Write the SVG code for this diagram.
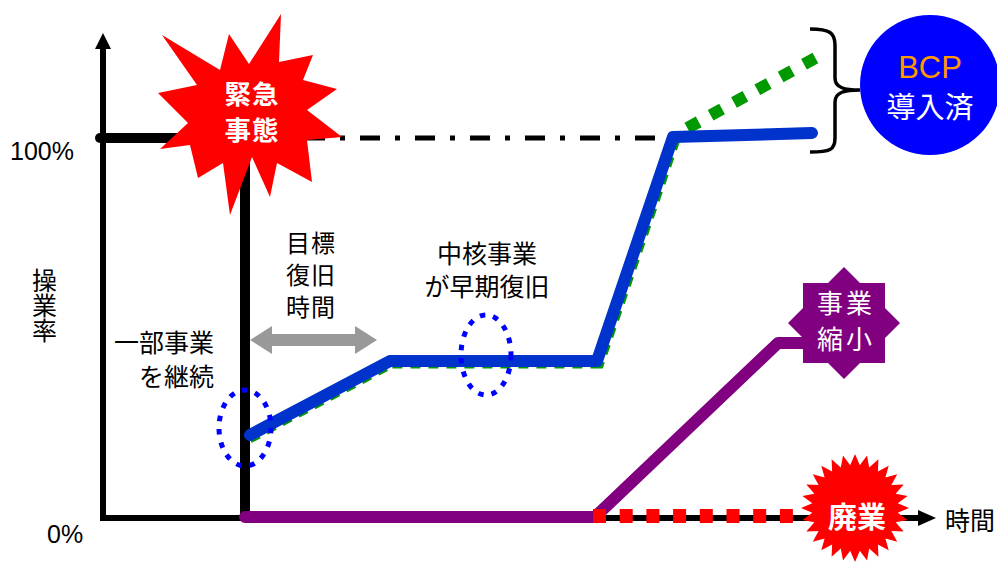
<svg xmlns="http://www.w3.org/2000/svg" width="997" height="563" viewBox="0 0 997 563">
<style>
.jp{font-family:"Noto Sans CJK JP","Noto Sans CJK SC",sans-serif;font-size:25px;fill:#000}
.en{font-family:"Liberation Sans",Arial,sans-serif;font-size:25px;fill:#000}
.mid{text-anchor:middle}
.wb{fill:#fff;font-weight:bold}
.w{fill:#fff}
.dot{fill:none;stroke:#0000FF;stroke-width:5;stroke-dasharray:5.5 8}
</style>
<rect width="997" height="563" fill="#fff"/>
<g id="connectors">
  <path d="M103,47 V518 H920" fill="none" stroke="#000" stroke-width="6"/>
  <polygon points="103,33 95,49 111,49" fill="#000"/>
  <polygon points="936,518 918,510 918,526" fill="#000"/>
  <line x1="100" y1="138" x2="245" y2="138" stroke="#000" stroke-width="10" stroke-linecap="round"/>
  <line x1="245" y1="138" x2="245" y2="518" stroke="#000" stroke-width="10"/>
  <line x1="250" y1="138" x2="672" y2="138" stroke="#000" stroke-width="5" stroke-dasharray="20 15 5 15"/>
  <path d="M249,437.5 L391,362.5 H598.5 L674.5,139" fill="none" stroke="#009900" stroke-width="12" stroke-dasharray="10 8"/>
  <line x1="687.3" y1="128.1" x2="815.7" y2="57.9" stroke="#009900" stroke-width="12" stroke-dasharray="13 13.6"/>
  <path d="M250,435 L390,361 H597 L673,137 L812,133" fill="none" stroke="#0033CC" stroke-width="12" stroke-linecap="round" stroke-linejoin="round"/>
  <path d="M245,517 H595 L778,343 H815" fill="none" stroke="#800080" stroke-width="12" stroke-linecap="round" stroke-linejoin="round"/>
  <line x1="593" y1="516" x2="805" y2="516" stroke="#FF0000" stroke-width="14" stroke-dasharray="13 13.7"/>
  <polygon points="250,340 272,326 272,334 355,334 355,326 377,340 355,354 355,346 272,346 272,354" fill="#999999"/>
  <path d="M810,29 C830,29 835,33 835,45 L835,78 C835,88 845,90 860,90 C845,90 835,92 835,102 L835,138 C835,150 830,152 810,152" fill="none" stroke="#000" stroke-width="3.5"/>
</g>
<g id="ellipse-left"><ellipse class="dot" cx="245" cy="428" rx="26" ry="38"/></g>
<g id="ellipse-mid"><ellipse class="dot" cx="486" cy="355" rx="25" ry="40"/></g>
<g id="emergency">
  <polygon points="162,35 220,70 229,34 249,64 281,14 279,62 313,55 303,80 337,89 307,110 342,137 307,140 312,182 277,163 270,197 252,157 230,215 223,163 198,178 190,145 160,149 188,123 158,93 197,85" fill="#FF0000"/>
  <text class="jp mid wb" style="font-size:26.5px;letter-spacing:1px"><tspan x="252" y="104">緊急</tspan><tspan x="252" y="140">事態</tspan></text>
</g>
<g id="bcp">
  <circle cx="930" cy="85" r="70" fill="#0000FF"/>
  <text class="en mid" x="930" y="78" style="font-size:31px;fill:#FF9900">BCP</text>
  <text class="jp mid w" x="930" y="118" style="font-size:29px">導入済</text>
</g>
<g id="shrink">
  <polygon points="844,267 860,283 885,283 885,308 900,323 885,338 885,363 860,363 844,379 828,363 803,363 803,338 788,323 803,308 803,283 828,283" fill="#800080"/>
  <text class="jp mid w" style="font-size:26px;letter-spacing:3px"><tspan x="846" y="313">事業</tspan><tspan x="846" y="349">縮小</tspan></text>
</g>
<g id="closure">
  <polygon points="855,454 859.8,465.3 867,455.4 869.2,467.4 878.4,459.3 877.9,471.6 888.7,465.8 885.4,477.6 897.2,474.3 891.4,485.1 903.7,484.6 895.6,493.8 907.6,496 897.7,503.2 909,508 897.7,512.8 907.6,520 895.6,522.2 903.7,531.4 891.4,530.9 897.2,541.7 885.4,538.4 888.7,550.2 877.9,544.4 878.4,556.7 869.2,548.6 867,560.6 859.8,550.7 855,562 850.2,550.7 843,560.6 840.8,548.6 831.6,556.7 832.1,544.4 821.3,550.2 824.6,538.4 812.8,541.7 818.6,530.9 806.3,531.4 814.4,522.2 802.4,520 812.3,512.8 801,508 812.3,503.2 802.4,496 814.4,493.8 806.3,484.6 818.6,485.1 812.8,474.3 824.6,477.6 821.3,465.8 832.1,471.6 831.6,459.3 840.8,467.4 843,455.4 850.2,465.3" fill="#FF0000"/>
  <text class="jp mid wb" x="857" y="528" style="font-size:29px">廃業</text>
</g>
<g id="labels">
  <text class="en" x="10" y="160">100%</text>
  <text class="en" x="47" y="543">0%</text>
  <text class="jp" x="44.5" y="268" writing-mode="vertical-rl" style="writing-mode:vertical-rl">操業率</text>
  <text class="jp" text-anchor="end"><tspan x="214" y="352">一部事業</tspan><tspan x="214" y="386">を継続</tspan></text>
  <text class="jp mid" style="font-size:24px;letter-spacing:1px"><tspan x="311" y="252">目標</tspan><tspan x="311" y="284">復旧</tspan><tspan x="311" y="316">時間</tspan></text>
  <text class="jp mid"><tspan x="487" y="263">中核事業</tspan><tspan x="487" y="296">が早期復旧</tspan></text>
  <text class="jp" x="945" y="530">時間</text>
</g>
</svg>
